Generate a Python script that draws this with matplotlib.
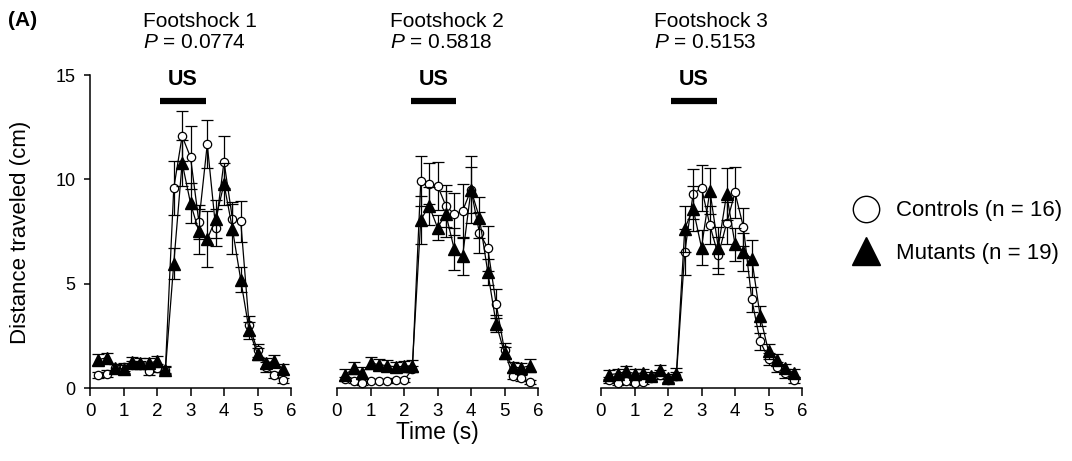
import numpy as np
import matplotlib
matplotlib.use('Agg')
import matplotlib.pyplot as plt
from matplotlib.lines import Line2D

plt.rcParams['font.family'] = ['Liberation Sans', 'DejaVu Sans']
plt.rcParams['mathtext.fontset'] = 'custom'
plt.rcParams['mathtext.rm'] = 'Liberation Sans'
plt.rcParams['mathtext.it'] = 'Liberation Sans:italic'

# time bins (s)
time_s = [0.25, 0.5, 0.75, 1.0, 1.25, 1.5, 1.75, 2.0, 2.25, 2.5, 2.75, 3.0,
          3.25, 3.5, 3.75, 4.0, 4.25, 4.5, 4.75, 5.0, 5.25, 5.5, 5.75]

titles = ['Footshock 1', 'Footshock 2', 'Footshock 3']
p_values = ['0.0774', '0.5818', '0.5153']
us_start = [2.1, 2.2, 2.1]
us_end = [3.45, 3.55, 3.45]

# Controls (n = 16)
ctrl_1 = [0.64, 0.69, 0.95, 1.0, 1.1, 1.1, 0.8, 0.96, 0.88, 9.57, 12.07, 11.06,
          7.96, 11.68, 7.69, 10.85, 8.12, 7.98, 3.0, 1.8, 1.0, 0.64, 0.37]
ctrl_1_sem = [0.15, 0.15, 0.2, 0.2, 0.2, 0.2, 0.2, 0.2, 0.15, 1.3, 1.2, 1.5,
              0.8, 1.15, 0.9, 1.25, 0.8, 1.0, 0.45, 0.3, 0.25, 0.15, 0.12]
ctrl_2 = [0.43, 0.32, 0.24, 0.32, 0.32, 0.32, 0.37, 0.37, 0.9, 9.9, 9.8, 9.7,
          8.73, 8.33, 8.49, 9.5, 7.45, 6.7, 4.04, 1.8, 0.56, 0.48, 0.29]
ctrl_2_sem = [0.1, 0.1, 0.08, 0.1, 0.1, 0.1, 0.1, 0.1, 0.15, 1.2, 1.0, 1.15,
              1.0, 1.0, 1.3, 1.1, 1.0, 1.07, 0.7, 0.35, 0.15, 0.15, 0.1]
ctrl_3 = [0.37, 0.24, 0.32, 0.24, 0.27, 0.48, 0.64, 0.4, 0.56, 6.52, 9.3, 9.6,
          7.8, 6.36, 7.9, 9.37, 7.72, 4.25, 2.24, 1.4, 1.0, 0.7, 0.4]
ctrl_3_sem = [0.15, 0.1, 0.12, 0.1, 0.1, 0.15, 0.2, 0.15, 0.2, 1.1, 1.2, 1.1,
              0.9, 0.9, 1.0, 1.2, 0.9, 0.6, 0.4, 0.3, 0.25, 0.2, 0.15]

# Mutants (n = 19)
mut_1 = [1.36, 1.45, 0.96, 0.91, 1.23, 1.2, 1.2, 1.28, 0.85, 5.96, 10.8, 8.86,
         7.5, 7.13, 8.09, 9.78, 7.64, 5.18, 2.77, 1.63, 1.2, 1.28, 0.91]
mut_1_sem = [0.25, 0.25, 0.2, 0.2, 0.25, 0.25, 0.25, 0.25, 0.2, 0.75, 1.1, 0.95,
             1.1, 1.35, 0.9, 1.0, 1.2, 0.6, 0.4, 0.3, 0.25, 0.3, 0.25]
mut_2 = [0.64, 0.96, 0.72, 1.2, 1.12, 1.07, 1.01, 1.04, 1.07, 8.06, 8.73, 7.69,
         8.33, 6.65, 6.33, 9.5, 8.17, 5.56, 3.08, 1.68, 1.01, 0.96, 1.07]
mut_2_sem = [0.25, 0.3, 0.3, 0.3, 0.25, 0.25, 0.25, 0.25, 0.25, 1.15, 0.9, 0.6,
             1.1, 1.0, 0.9, 1.6, 1.0, 0.6, 0.4, 0.3, 0.25, 0.25, 0.3]
mut_3 = [0.64, 0.69, 0.8, 0.69, 0.72, 0.56, 0.85, 0.48, 0.69, 7.64, 8.6, 6.73,
         9.46, 6.73, 9.3, 6.89, 6.52, 6.2, 3.45, 1.76, 1.36, 0.96, 0.72]
mut_3_sem = [0.2, 0.2, 0.25, 0.2, 0.2, 0.2, 0.25, 0.2, 0.25, 1.1, 1.1, 0.85,
             1.1, 1.0, 1.25, 0.8, 0.9, 0.9, 0.5, 0.35, 0.25, 0.2, 0.2]

controls = [(ctrl_1, ctrl_1_sem), (ctrl_2, ctrl_2_sem), (ctrl_3, ctrl_3_sem)]
mutants = [(mut_1, mut_1_sem), (mut_2, mut_2_sem), (mut_3, mut_3_sem)]

fig = plt.figure(figsize=(10.72, 4.61), dpi=100)
lefts = [90 / 1072, 337 / 1072, 601 / 1072]
bottom = 73 / 461
width = 201 / 1072
height = 313 / 461

for i in range(3):
    ax = fig.add_axes([lefts[i], bottom, width, height])
    c, c_sem = controls[i]
    m, m_sem = mutants[i]
    ax.errorbar(time_s, c, yerr=c_sem, fmt='-o', color='black', mfc='white',
                mec='black', mew=0.9, ms=6, lw=0.9, elinewidth=0.9,
                capsize=4.5, capthick=0.9, clip_on=False, zorder=3)
    ax.errorbar(time_s, m, yerr=m_sem, fmt='-^', color='black', mfc='black',
                ms=8.5, lw=0.9, elinewidth=0.9, capsize=4.5, capthick=0.9,
                clip_on=False, zorder=4)

    ax.set_xlim(0, 6)
    ax.set_ylim(0, 15)
    ax.set_xticks(range(7))
    ax.tick_params(axis='x', labelsize=13.5, length=6, width=1.1, pad=5)
    for s in ['top', 'right']:
        ax.spines[s].set_visible(False)
    ax.spines['bottom'].set_linewidth(1.1)
    if i == 0:
        ax.set_yticks([0, 5, 10, 15])
        ax.tick_params(axis='y', labelsize=13, length=4.5, width=1.1, pad=6)
        ax.spines['left'].set_linewidth(1.1)
    else:
        ax.spines['left'].set_visible(False)
        ax.set_yticks([])

    # US bar and label
    ax.plot([us_start[i], us_end[i]], [13.75, 13.75], color='black', lw=4.5,
            solid_capstyle='butt', clip_on=False)
    ax.text((us_start[i] + us_end[i]) / 2, 14.78, 'US', ha='center',
            va='center', fontsize=15.5, fontweight='bold')

    ax.text(0.265, 1.171, titles[i], transform=ax.transAxes, ha='left',
            va='center', fontsize=15)
    ax.text(0.265, 1.104, '$P$ = ' + p_values[i], transform=ax.transAxes,
            ha='left', va='center', fontsize=15)

fig.text(8 / 1072, 1 - 21 / 461, '(A)', ha='left', va='center',
         fontsize=15, fontweight='bold')
fig.text(21 / 1072, 1 - 232 / 461, 'Distance traveled (cm)', rotation=90,
         ha='center', va='center', fontsize=16)
fig.text(437 / 1072, 1 - 432 / 461, 'Time (s)', ha='center', va='center',
         fontsize=16.5)

handles = [Line2D([], [], ls='none', marker='o', ms=19, mfc='white',
                  mec='black', mew=1.0),
           Line2D([], [], ls='none', marker='^', ms=19.5, mfc='black',
                  mec='black')]
fig.legend(handles, ['Controls (n = 16)', 'Mutants (n = 19)'],
           loc='center left', bbox_to_anchor=(853 / 1072, 1 - 232 / 461),
           frameon=False, fontsize=16, handlelength=1.2, handletextpad=0.75,
           labelspacing=0.95, borderpad=0, borderaxespad=0, numpoints=1)

fig.savefig('out.png', dpi=100)
